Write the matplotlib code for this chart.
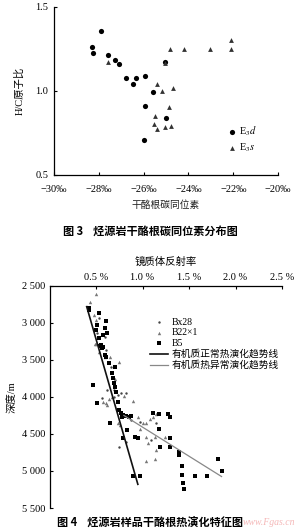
import matplotlib
matplotlib.use('Agg')
import matplotlib.pyplot as plt

plt.rcParams['font.family'] = ['Liberation Serif', 'Noto Sans CJK SC', 'DejaVu Sans']
plt.rcParams['mathtext.fontset'] = 'stix'

# ---------------- Figure 3 data ----------------
e3d_x = [-27.90, -28.30, -28.25, -27.60, -27.29, -27.08, -26.80, -26.48, -26.33,
         -25.93, -25.58, -25.93, -25.03, -25.01, -26.00]
e3d_y = [1.355, 1.26, 1.227, 1.213, 1.186, 1.16, 1.077, 1.043, 1.077,
         1.09, 0.993, 0.908, 1.17, 0.838, 0.707]
e3s_x = [-27.57, -24.84, -24.22, -23.04, -22.11, -22.11, -25.39, -25.16, -24.67,
         -24.87, -25.49, -25.55, -25.40, -25.03, -24.77, -25.03]
e3s_y = [1.17, 1.25, 1.25, 1.25, 1.30, 1.25, 1.04, 1.00, 1.02,
         0.904, 0.852, 0.80, 0.773, 0.784, 0.79, 1.165]
f3_xticks = [-30, -28, -26, -24, -22, -20]
f3_xlabels = ['−30‰', '−28‰', '−26‰', '−24‰', '−22‰', '−20‰']
f3_yticks = [0.5, 1.0, 1.5]
f3_ylabels = ['0.5', '1.0', '1.5']

# ---------------- Figure 4 data ----------------
b5_ro = [0.42, 0.43, 0.53, 0.61, 0.60, 0.62, 0.58, 0.53, 0.55, 0.57, 0.51, 0.50,
         0.544, 0.562, 0.598, 0.605, 0.642, 0.671, 0.678, 0.696, 0.707, 0.714, 0.732,
         0.750, 0.768, 0.779, 0.794, 0.823, 0.859, 0.877, 0.703, 0.653, 0.787, 0.834,
         0.924, 0.950, 0.895, 0.968, 1.113, 1.178, 1.276, 1.294, 1.178, 1.185, 1.294,
         1.301, 1.395, 1.395, 1.421, 1.421, 1.432, 1.450, 1.566, 1.692, 1.812, 1.855,
         0.468, 0.508]
b5_depth = [2824, 2801, 2869, 2969, 3063, 3131, 3162, 3207, 3297, 3320, 3027, 3094,
            3311, 3343, 3433, 3455, 3536, 3680, 3748, 3815, 3860, 3928, 4063,
            4175, 4220, 4274, 4243, 4256, 4265, 4256, 3590, 4346, 4558, 4445,
            4535, 4558, 5066, 5066, 4211, 4229, 4229, 4274, 4436, 4670, 4558,
            4670, 4738, 4783, 4932, 5054, 5157, 5247, 5066, 5066, 4841, 4994,
            3838, 4085]
b22_ro = [0.497, 0.44, 0.42, 0.48, 0.50, 0.49,
          0.497, 0.533, 0.598, 0.653, 0.750, 0.707, 0.696, 0.642, 0.605, 0.671,
          0.805, 0.895, 0.732, 0.761, 0.950, 1.004, 1.040, 1.076, 1.113, 1.142,
          0.968, 1.040, 1.131, 1.058, 1.149, 1.239, 1.040, 1.131, 0.576, 0.623]
b22_depth = [2612, 2712, 2780, 2892, 2959, 3283,
             3284, 3388, 3455, 3455, 3523, 3761, 3896, 4031, 4085, 4004,
             3986, 4054, 4346, 4378, 4274, 4346, 4346, 4301, 4274, 4229,
             4436, 4535, 4535, 4617, 4716, 4535, 4860, 4841, 4063, 4108]
bx28_ro = [0.53, 0.51, 0.60, 0.623, 0.768, 0.823, 0.696, 0.732, 0.569, 0.877,
           0.968, 1.149, 1.095, 0.823, 0.750, 0.605, 0.660]
bx28_depth = [2937, 3139, 3193, 3905, 3950, 3950, 3995, 3973, 4018, 4310,
              4333, 4355, 4580, 4603, 4670, 3365, 3590]
normal_ro = [0.40, 0.95]
normal_depth = [2780, 5180]
abnormal_ro = [0.80, 1.85]
abnormal_depth = [4250, 5075]
f4_xticks = [0.5, 1.0, 1.5, 2.0, 2.5]
f4_xlabels = ['0.5 %', '1.0 %', '1.5 %', '2.0 %', '2.5 %']
f4_yticks = [2500, 3000, 3500, 4000, 4500, 5000, 5500]
f4_ylabels = ['2 500', '3 000', '3 500', '4 000', '4 500', '5 000', '5 500']

fig = plt.figure(figsize=(3, 5.3), dpi=100)

# ---------------- Figure 3 ----------------
ax1 = fig.add_axes([0.180, 0.670, 0.747, 0.317])
ax1.scatter(e3d_x, e3d_y, s=14, marker='o', color='black', linewidths=0, label=r'E$_3$$d$')
ax1.scatter(e3s_x, e3s_y, s=12, marker='^', color='#333333', linewidths=0, label=r'E$_3$$s$')
ax1.set_xlim(-30, -20)
ax1.set_ylim(0.5, 1.5)
ax1.set_xticks(f3_xticks)
ax1.set_xticklabels(f3_xlabels, fontsize=7.5)
ax1.set_yticks(f3_yticks)
ax1.set_yticklabels(f3_ylabels, fontsize=7.5)
ax1.tick_params(axis='x', direction='in', length=2.5, width=0.8, pad=7)
ax1.tick_params(axis='y', direction='in', length=2.5, width=0.8, pad=4)
for s in ['top', 'right']:
    ax1.spines[s].set_visible(False)
for s in ['left', 'bottom']:
    ax1.spines[s].set_linewidth(0.9)
ax1.set_xlabel('干酪根碳同位素', fontsize=7, labelpad=5, color='#222222')
ax1.set_ylabel('H/C原子比', fontsize=7.5, labelpad=8)
ax1.legend(loc='upper left', bbox_to_anchor=(0.755, 0.765), bbox_transform=fig.transFigure,
           frameon=False, fontsize=7.5, handletextpad=0.2, labelspacing=0.35,
           borderaxespad=0, borderpad=0, handlelength=1.0)

fig.text(0.50, 0.563, '图 3    烃源岩干酪根碳同位素分布图', ha='center', va='center',
         fontsize=8, fontweight='bold', family=['Noto Sans CJK SC'])

# ---------------- Figure 4 ----------------
ax2 = fig.add_axes([0.165, 0.0415, 0.775, 0.419])
ax2.scatter(bx28_ro, bx28_depth, s=3, marker='o', color='#444444', linewidths=0, label='Bx28')
ax2.scatter(b22_ro, b22_depth, s=6, marker='^', color='#777777', linewidths=0, label='B22×1')
ax2.scatter(b5_ro, b5_depth, s=7, marker='s', color='black', linewidths=0, label='B5')
ax2.plot(normal_ro, normal_depth, color='#111111', lw=1.2, label='有机质正常热演化趋势线')
ax2.plot(abnormal_ro, abnormal_depth, color='#888888', lw=0.9, label='有机质热异常演化趋势线')
ax2.set_xlim(0, 2.5)
ax2.set_ylim(5500, 2500)
ax2.xaxis.tick_top()
ax2.xaxis.set_label_position('top')
ax2.set_xticks(f4_xticks)
ax2.set_xticklabels(f4_xlabels, fontsize=7.5)
ax2.set_yticks(f4_yticks)
ax2.set_yticklabels(f4_ylabels, fontsize=7.5)
ax2.tick_params(direction='in', length=2.5, width=0.8, pad=3)
for s in ['bottom', 'right']:
    ax2.spines[s].set_visible(False)
for s in ['left', 'top']:
    ax2.spines[s].set_linewidth(0.9)
ax2.set_xlabel('镜质体反射率', fontsize=7.5, labelpad=6)
ax2.set_ylabel('深度/m', fontsize=7.5, labelpad=4)
ax2.legend(loc='upper left', bbox_to_anchor=(0.50, 0.400), bbox_transform=fig.transFigure,
           frameon=False, fontsize=7, handletextpad=0.4, labelspacing=0.15,
           borderaxespad=0, borderpad=0, handlelength=1.8)

fig.text(0.50, 0.013, '图 4    烃源岩样品干酪根热演化特征图', ha='center', va='center',
         fontsize=8, fontweight='bold', family=['Noto Sans CJK SC'])
fig.text(0.985, 0.006, 'www.Fgas.cn', ha='right', va='bottom', fontsize=7,
         style='italic', color='#f2a6a6', alpha=0.8)

fig.savefig('out.png', dpi=100)
